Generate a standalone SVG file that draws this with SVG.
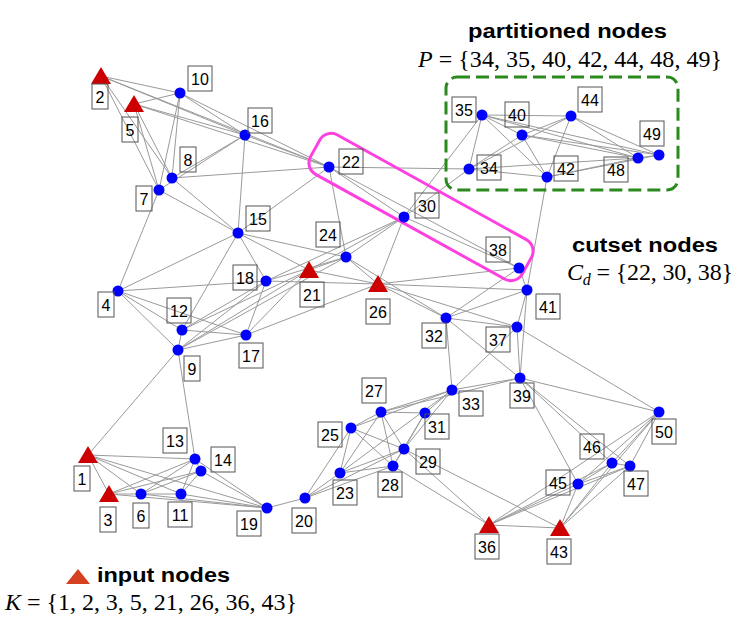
<svg xmlns="http://www.w3.org/2000/svg" xmlns:xlink="http://www.w3.org/1999/xlink" width="747" height="627" viewBox="0 0 747 627">
<style>
.e line{stroke:#9a9a9a;stroke-width:1}
.c{fill:#0000ff}
.t{fill:#cc0000}
.lb{fill:none;stroke:#555;stroke-width:1}
.lt{font-family:"Liberation Sans",Arial,sans-serif;font-size:16px;text-anchor:middle;fill:#000}
.hd{font-family:"Liberation Sans",Arial,sans-serif;font-size:20px;font-weight:bold;fill:#000}
.mt{font-family:"Liberation Serif","Times New Roman",serif;font-size:24px;fill:#000}
</style>
<defs>
<polygon id="tri" points="0,-9 10,8 -10,8"/>
</defs>
<rect width="747" height="627" fill="#fff"/>
<g id="connectors" class="e">
<line x1="101" y1="76" x2="180" y2="93"/>
<line x1="101" y1="76" x2="245" y2="135"/>
<line x1="101" y1="76" x2="329" y2="167"/>
<line x1="101" y1="76" x2="159" y2="190"/>
<line x1="101" y1="76" x2="172" y2="178"/>
<line x1="134" y1="104" x2="180" y2="93"/>
<line x1="134" y1="104" x2="245" y2="135"/>
<line x1="134" y1="104" x2="329" y2="167"/>
<line x1="134" y1="104" x2="159" y2="190"/>
<line x1="134" y1="104" x2="172" y2="178"/>
<line x1="180" y1="93" x2="245" y2="135"/>
<line x1="180" y1="93" x2="329" y2="167"/>
<line x1="180" y1="93" x2="159" y2="190"/>
<line x1="180" y1="93" x2="172" y2="178"/>
<line x1="245" y1="135" x2="172" y2="178"/>
<line x1="245" y1="135" x2="159" y2="190"/>
<line x1="245" y1="135" x2="238" y2="233"/>
<line x1="245" y1="135" x2="329" y2="167"/>
<line x1="172" y1="178" x2="329" y2="167"/>
<line x1="172" y1="178" x2="238" y2="233"/>
<line x1="159" y1="190" x2="238" y2="233"/>
<line x1="159" y1="190" x2="118" y2="291"/>
<line x1="238" y1="233" x2="329" y2="167"/>
<line x1="238" y1="233" x2="118" y2="291"/>
<line x1="238" y1="233" x2="346" y2="257"/>
<line x1="238" y1="233" x2="309" y2="270"/>
<line x1="238" y1="233" x2="266" y2="281"/>
<line x1="238" y1="233" x2="182" y2="330"/>
<line x1="118" y1="291" x2="266" y2="281"/>
<line x1="118" y1="291" x2="182" y2="330"/>
<line x1="118" y1="291" x2="246" y2="335"/>
<line x1="118" y1="291" x2="178" y2="350"/>
<line x1="266" y1="281" x2="246" y2="335"/>
<line x1="266" y1="281" x2="182" y2="330"/>
<line x1="266" y1="281" x2="178" y2="350"/>
<line x1="266" y1="281" x2="346" y2="257"/>
<line x1="266" y1="281" x2="378" y2="284"/>
<line x1="266" y1="281" x2="404" y2="217"/>
<line x1="182" y1="330" x2="246" y2="335"/>
<line x1="182" y1="330" x2="178" y2="350"/>
<line x1="182" y1="330" x2="309" y2="270"/>
<line x1="178" y1="350" x2="246" y2="335"/>
<line x1="178" y1="350" x2="309" y2="270"/>
<line x1="178" y1="350" x2="346" y2="257"/>
<line x1="178" y1="350" x2="195" y2="459"/>
<line x1="178" y1="350" x2="88" y2="455"/>
<line x1="246" y1="335" x2="309" y2="270"/>
<line x1="246" y1="335" x2="378" y2="284"/>
<line x1="309" y1="270" x2="346" y2="257"/>
<line x1="309" y1="270" x2="404" y2="217"/>
<line x1="309" y1="270" x2="378" y2="284"/>
<line x1="329" y1="167" x2="346" y2="257"/>
<line x1="329" y1="167" x2="469" y2="169"/>
<line x1="329" y1="167" x2="404" y2="217"/>
<line x1="329" y1="167" x2="519" y2="268"/>
<line x1="346" y1="257" x2="404" y2="217"/>
<line x1="346" y1="257" x2="378" y2="284"/>
<line x1="346" y1="257" x2="446" y2="318"/>
<line x1="378" y1="284" x2="404" y2="217"/>
<line x1="378" y1="284" x2="519" y2="268"/>
<line x1="378" y1="284" x2="527" y2="290"/>
<line x1="378" y1="284" x2="446" y2="318"/>
<line x1="378" y1="284" x2="517" y2="327"/>
<line x1="404" y1="217" x2="482" y2="115"/>
<line x1="404" y1="217" x2="469" y2="169"/>
<line x1="404" y1="217" x2="519" y2="268"/>
<line x1="469" y1="169" x2="482" y2="115"/>
<line x1="469" y1="169" x2="522" y2="135"/>
<line x1="469" y1="169" x2="571" y2="116"/>
<line x1="469" y1="169" x2="547" y2="177"/>
<line x1="469" y1="169" x2="638" y2="158"/>
<line x1="482" y1="115" x2="571" y2="116"/>
<line x1="482" y1="115" x2="522" y2="135"/>
<line x1="482" y1="115" x2="547" y2="177"/>
<line x1="482" y1="115" x2="638" y2="158"/>
<line x1="482" y1="115" x2="659" y2="155"/>
<line x1="522" y1="135" x2="571" y2="116"/>
<line x1="522" y1="135" x2="547" y2="177"/>
<line x1="522" y1="135" x2="638" y2="158"/>
<line x1="522" y1="135" x2="659" y2="155"/>
<line x1="571" y1="116" x2="638" y2="158"/>
<line x1="571" y1="116" x2="659" y2="155"/>
<line x1="571" y1="116" x2="547" y2="177"/>
<line x1="547" y1="177" x2="638" y2="158"/>
<line x1="547" y1="177" x2="659" y2="155"/>
<line x1="547" y1="177" x2="527" y2="290"/>
<line x1="638" y1="158" x2="659" y2="155"/>
<line x1="519" y1="268" x2="446" y2="318"/>
<line x1="519" y1="268" x2="527" y2="290"/>
<line x1="527" y1="290" x2="517" y2="327"/>
<line x1="527" y1="290" x2="520" y2="378"/>
<line x1="527" y1="290" x2="446" y2="318"/>
<line x1="446" y1="318" x2="517" y2="327"/>
<line x1="446" y1="318" x2="520" y2="378"/>
<line x1="446" y1="318" x2="452" y2="390"/>
<line x1="517" y1="327" x2="520" y2="378"/>
<line x1="517" y1="327" x2="452" y2="390"/>
<line x1="517" y1="327" x2="659" y2="412"/>
<line x1="520" y1="378" x2="452" y2="390"/>
<line x1="520" y1="378" x2="381" y2="412"/>
<line x1="520" y1="378" x2="659" y2="412"/>
<line x1="520" y1="378" x2="578" y2="484"/>
<line x1="520" y1="378" x2="612" y2="463"/>
<line x1="520" y1="378" x2="630" y2="466"/>
<line x1="452" y1="390" x2="381" y2="412"/>
<line x1="452" y1="390" x2="425" y2="413"/>
<line x1="452" y1="390" x2="404" y2="449"/>
<line x1="452" y1="390" x2="340" y2="473"/>
<line x1="452" y1="390" x2="351" y2="428"/>
<line x1="381" y1="412" x2="351" y2="428"/>
<line x1="381" y1="412" x2="425" y2="413"/>
<line x1="381" y1="412" x2="404" y2="449"/>
<line x1="381" y1="412" x2="393" y2="466"/>
<line x1="381" y1="412" x2="340" y2="473"/>
<line x1="351" y1="428" x2="340" y2="473"/>
<line x1="351" y1="428" x2="305" y2="498"/>
<line x1="351" y1="428" x2="404" y2="449"/>
<line x1="351" y1="428" x2="393" y2="466"/>
<line x1="425" y1="413" x2="404" y2="449"/>
<line x1="425" y1="413" x2="393" y2="466"/>
<line x1="404" y1="449" x2="393" y2="466"/>
<line x1="404" y1="449" x2="340" y2="473"/>
<line x1="404" y1="449" x2="305" y2="498"/>
<line x1="404" y1="449" x2="489" y2="525"/>
<line x1="404" y1="449" x2="560" y2="528"/>
<line x1="393" y1="466" x2="340" y2="473"/>
<line x1="393" y1="466" x2="305" y2="498"/>
<line x1="393" y1="466" x2="489" y2="525"/>
<line x1="340" y1="473" x2="305" y2="498"/>
<line x1="305" y1="498" x2="267" y2="508"/>
<line x1="267" y1="508" x2="109" y2="494"/>
<line x1="267" y1="508" x2="141" y2="494"/>
<line x1="267" y1="508" x2="181" y2="494"/>
<line x1="267" y1="508" x2="195" y2="459"/>
<line x1="267" y1="508" x2="201" y2="471"/>
<line x1="267" y1="508" x2="88" y2="455"/>
<line x1="88" y1="455" x2="195" y2="459"/>
<line x1="88" y1="455" x2="109" y2="494"/>
<line x1="88" y1="455" x2="141" y2="494"/>
<line x1="88" y1="455" x2="181" y2="494"/>
<line x1="109" y1="494" x2="181" y2="494"/>
<line x1="109" y1="494" x2="195" y2="459"/>
<line x1="109" y1="494" x2="201" y2="471"/>
<line x1="141" y1="494" x2="195" y2="459"/>
<line x1="141" y1="494" x2="201" y2="471"/>
<line x1="181" y1="494" x2="201" y2="471"/>
<line x1="181" y1="494" x2="195" y2="459"/>
<line x1="195" y1="459" x2="201" y2="471"/>
<line x1="578" y1="484" x2="489" y2="525"/>
<line x1="578" y1="484" x2="560" y2="528"/>
<line x1="578" y1="484" x2="612" y2="463"/>
<line x1="578" y1="484" x2="630" y2="466"/>
<line x1="578" y1="484" x2="659" y2="412"/>
<line x1="612" y1="463" x2="630" y2="466"/>
<line x1="612" y1="463" x2="489" y2="525"/>
<line x1="612" y1="463" x2="560" y2="528"/>
<line x1="612" y1="463" x2="659" y2="412"/>
<line x1="630" y1="466" x2="489" y2="525"/>
<line x1="630" y1="466" x2="560" y2="528"/>
<line x1="630" y1="466" x2="659" y2="412"/>
<line x1="659" y1="412" x2="489" y2="525"/>
<line x1="659" y1="412" x2="560" y2="528"/>
<line x1="489" y1="525" x2="560" y2="528"/>
</g>
<g id="cutset-box">
<rect x="300" y="184.5" width="242" height="45" rx="13" transform="rotate(29 421 207)" fill="none" stroke="#ff40e0" stroke-width="3"/>
</g>
<g id="partition-box">
<rect x="446" y="77" width="232" height="113" rx="11" fill="none" stroke="#2b8a1e" stroke-width="3" stroke-dasharray="13 6"/>
</g>
<g id="n1"><use xlink:href="#tri" x="88" y="455" class="t"/><rect class="lb" x="74" y="466" width="16" height="25"/><text class="lt" x="82" y="484.5">1</text></g>
<g id="n2"><use xlink:href="#tri" x="101" y="76" class="t"/><rect class="lb" x="92" y="84" width="16" height="25"/><text class="lt" x="100" y="102.5">2</text></g>
<g id="n3"><use xlink:href="#tri" x="109" y="494" class="t"/><rect class="lb" x="100" y="507" width="16" height="25"/><text class="lt" x="108" y="525.5">3</text></g>
<g id="n4"><circle class="c" cx="118" cy="291" r="5.5"/><rect class="lb" x="98" y="292" width="16" height="25"/><text class="lt" x="106" y="310.5">4</text></g>
<g id="n5"><use xlink:href="#tri" x="134" y="104" class="t"/><rect class="lb" x="122" y="117" width="16" height="25"/><text class="lt" x="130" y="135.5">5</text></g>
<g id="n6"><circle class="c" cx="141" cy="494" r="5.5"/><rect class="lb" x="133" y="503" width="16" height="25"/><text class="lt" x="141" y="521.5">6</text></g>
<g id="n7"><circle class="c" cx="159" cy="190" r="5.5"/><rect class="lb" x="136" y="186" width="16" height="25"/><text class="lt" x="144" y="204.5">7</text></g>
<g id="n8"><circle class="c" cx="172" cy="178" r="5.5"/><rect class="lb" x="180" y="147" width="16" height="25"/><text class="lt" x="188" y="165.5">8</text></g>
<g id="n9"><circle class="c" cx="178" cy="350" r="5.5"/><rect class="lb" x="184" y="356" width="16" height="25"/><text class="lt" x="192" y="374.5">9</text></g>
<g id="n10"><circle class="c" cx="180" cy="93" r="5.5"/><rect class="lb" x="188" y="66" width="24" height="25"/><text class="lt" x="200" y="84.5">10</text></g>
<g id="n11"><circle class="c" cx="181" cy="494" r="5.5"/><rect class="lb" x="168" y="502" width="24" height="25"/><text class="lt" x="180" y="520.5">11</text></g>
<g id="n12"><circle class="c" cx="182" cy="330" r="5.5"/><rect class="lb" x="167" y="298" width="24" height="25"/><text class="lt" x="179" y="316.5">12</text></g>
<g id="n13"><circle class="c" cx="195" cy="459" r="5.5"/><rect class="lb" x="163" y="428" width="24" height="25"/><text class="lt" x="175" y="446.5">13</text></g>
<g id="n14"><circle class="c" cx="201" cy="471" r="5.5"/><rect class="lb" x="211" y="447" width="24" height="25"/><text class="lt" x="223" y="465.5">14</text></g>
<g id="n15"><circle class="c" cx="238" cy="233" r="5.5"/><rect class="lb" x="246" y="206" width="24" height="25"/><text class="lt" x="258" y="224.5">15</text></g>
<g id="n16"><circle class="c" cx="245" cy="135" r="5.5"/><rect class="lb" x="248" y="108" width="24" height="25"/><text class="lt" x="260" y="126.5">16</text></g>
<g id="n17"><circle class="c" cx="246" cy="335" r="5.5"/><rect class="lb" x="239" y="343" width="24" height="25"/><text class="lt" x="251" y="361.5">17</text></g>
<g id="n18"><circle class="c" cx="266" cy="281" r="5.5"/><rect class="lb" x="233" y="265" width="24" height="25"/><text class="lt" x="245" y="283.5">18</text></g>
<g id="n19"><circle class="c" cx="267" cy="508" r="5.5"/><rect class="lb" x="237" y="511" width="24" height="25"/><text class="lt" x="249" y="529.5">19</text></g>
<g id="n20"><circle class="c" cx="305" cy="498" r="5.5"/><rect class="lb" x="292" y="508" width="24" height="25"/><text class="lt" x="304" y="526.5">20</text></g>
<g id="n21"><use xlink:href="#tri" x="309" y="270" class="t"/><rect class="lb" x="300" y="282" width="24" height="25"/><text class="lt" x="312" y="300.5">21</text></g>
<g id="n22"><circle class="c" cx="329" cy="167" r="5.5"/><rect class="lb" x="339" y="149" width="24" height="25"/><text class="lt" x="351" y="167.5">22</text></g>
<g id="n23"><circle class="c" cx="340" cy="473" r="5.5"/><rect class="lb" x="333" y="480" width="24" height="25"/><text class="lt" x="345" y="498.5">23</text></g>
<g id="n24"><circle class="c" cx="346" cy="257" r="5.5"/><rect class="lb" x="316" y="222" width="24" height="25"/><text class="lt" x="328" y="240.5">24</text></g>
<g id="n25"><circle class="c" cx="351" cy="428" r="5.5"/><rect class="lb" x="318" y="422" width="24" height="25"/><text class="lt" x="330" y="440.5">25</text></g>
<g id="n26"><use xlink:href="#tri" x="378" y="284" class="t"/><rect class="lb" x="366" y="299" width="24" height="25"/><text class="lt" x="378" y="317.5">26</text></g>
<g id="n27"><circle class="c" cx="381" cy="412" r="5.5"/><rect class="lb" x="362" y="378" width="24" height="25"/><text class="lt" x="374" y="396.5">27</text></g>
<g id="n28"><circle class="c" cx="393" cy="466" r="5.5"/><rect class="lb" x="378" y="472" width="24" height="25"/><text class="lt" x="390" y="490.5">28</text></g>
<g id="n29"><circle class="c" cx="404" cy="449" r="5.5"/><rect class="lb" x="416" y="449" width="24" height="25"/><text class="lt" x="428" y="467.5">29</text></g>
<g id="n30"><circle class="c" cx="404" cy="217" r="5.5"/><rect class="lb" x="415" y="193" width="24" height="25"/><text class="lt" x="427" y="211.5">30</text></g>
<g id="n31"><circle class="c" cx="425" cy="413" r="5.5"/><rect class="lb" x="425" y="414" width="24" height="25"/><text class="lt" x="437" y="432.5">31</text></g>
<g id="n32"><circle class="c" cx="446" cy="318" r="5.5"/><rect class="lb" x="422" y="323" width="24" height="25"/><text class="lt" x="434" y="341.5">32</text></g>
<g id="n33"><circle class="c" cx="452" cy="390" r="5.5"/><rect class="lb" x="459" y="391" width="24" height="25"/><text class="lt" x="471" y="409.5">33</text></g>
<g id="n34"><circle class="c" cx="469" cy="169" r="5.5"/><rect class="lb" x="477" y="155" width="24" height="25"/><text class="lt" x="489" y="173.5">34</text></g>
<g id="n35"><circle class="c" cx="482" cy="115" r="5.5"/><rect class="lb" x="452" y="97" width="24" height="25"/><text class="lt" x="464" y="115.5">35</text></g>
<g id="n36"><use xlink:href="#tri" x="489" y="525" class="t"/><rect class="lb" x="475" y="534" width="24" height="25"/><text class="lt" x="487" y="552.5">36</text></g>
<g id="n37"><circle class="c" cx="517" cy="327" r="5.5"/><rect class="lb" x="486" y="327" width="24" height="25"/><text class="lt" x="498" y="345.5">37</text></g>
<g id="n38"><circle class="c" cx="519" cy="268" r="5.5"/><rect class="lb" x="486" y="237" width="24" height="25"/><text class="lt" x="498" y="255.5">38</text></g>
<g id="n39"><circle class="c" cx="520" cy="378" r="5.5"/><rect class="lb" x="510" y="383" width="24" height="25"/><text class="lt" x="522" y="401.5">39</text></g>
<g id="n40"><circle class="c" cx="522" cy="135" r="5.5"/><rect class="lb" x="505" y="102" width="24" height="25"/><text class="lt" x="517" y="120.5">40</text></g>
<g id="n41"><circle class="c" cx="527" cy="290" r="5.5"/><rect class="lb" x="536" y="294" width="24" height="25"/><text class="lt" x="548" y="312.5">41</text></g>
<g id="n42"><circle class="c" cx="547" cy="177" r="5.5"/><rect class="lb" x="554" y="156" width="24" height="25"/><text class="lt" x="566" y="174.5">42</text></g>
<g id="n43"><use xlink:href="#tri" x="560" y="528" class="t"/><rect class="lb" x="547" y="539" width="24" height="25"/><text class="lt" x="559" y="557.5">43</text></g>
<g id="n44"><circle class="c" cx="571" cy="116" r="5.5"/><rect class="lb" x="578" y="87" width="24" height="25"/><text class="lt" x="590" y="105.5">44</text></g>
<g id="n45"><circle class="c" cx="578" cy="484" r="5.5"/><rect class="lb" x="546" y="470" width="24" height="25"/><text class="lt" x="558" y="488.5">45</text></g>
<g id="n46"><circle class="c" cx="612" cy="463" r="5.5"/><rect class="lb" x="580" y="434" width="24" height="25"/><text class="lt" x="592" y="452.5">46</text></g>
<g id="n47"><circle class="c" cx="630" cy="466" r="5.5"/><rect class="lb" x="624" y="471" width="24" height="25"/><text class="lt" x="636" y="489.5">47</text></g>
<g id="n48"><circle class="c" cx="638" cy="158" r="5.5"/><rect class="lb" x="604" y="157" width="24" height="25"/><text class="lt" x="616" y="175.5">48</text></g>
<g id="n49"><circle class="c" cx="659" cy="155" r="5.5"/><rect class="lb" x="640" y="121" width="24" height="25"/><text class="lt" x="652" y="139.5">49</text></g>
<g id="n50"><circle class="c" cx="659" cy="412" r="5.5"/><rect class="lb" x="652" y="419" width="24" height="25"/><text class="lt" x="664" y="437.5">50</text></g>
<g id="legend-partition">
<text class="hd" x="468" y="38" textLength="199" lengthAdjust="spacingAndGlyphs">partitioned nodes</text>
<text class="mt" x="418" y="67" textLength="304" lengthAdjust="spacing"><tspan font-style="italic">P</tspan> = {34, 35, 40, 42, 44, 48, 49}</text>
</g>
<g id="legend-cutset">
<text class="hd" x="572" y="252" textLength="146" lengthAdjust="spacingAndGlyphs">cutset nodes</text>
<text class="mt" x="567" y="280" textLength="166" lengthAdjust="spacing"><tspan font-style="italic">C</tspan><tspan font-style="italic" font-size="16" dy="5">d</tspan><tspan dy="-5"> = {22, 30, 38}</tspan></text>
</g>
<g id="legend-input">
<polygon points="78,569 90,584 66,584" fill="#d44020"/>
<text class="hd" x="97" y="582" textLength="133" lengthAdjust="spacingAndGlyphs">input nodes</text>
<text class="mt" x="5" y="610" textLength="292" lengthAdjust="spacing"><tspan font-style="italic">K</tspan> = {1, 2, 3, 5, 21, 26, 36, 43}</text>
</g>
</svg>
